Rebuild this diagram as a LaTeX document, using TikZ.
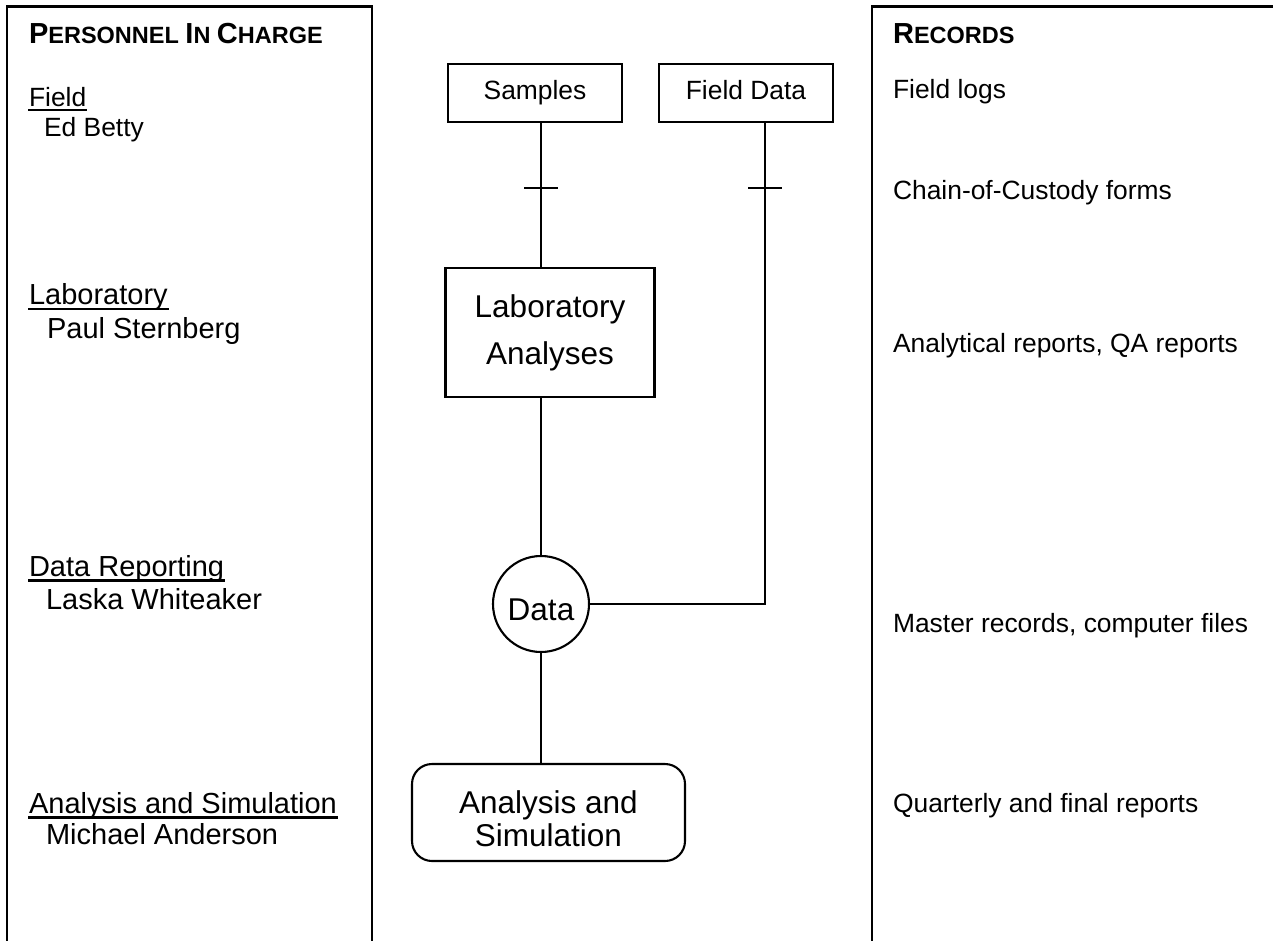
\documentclass[tikz,border=0pt]{standalone}
\usepackage{fontspec}
\setmainfont{Liberation Sans}
\newcommand\hbig[1]{{\fontsize{29}{34}\selectfont #1}}
\newcommand\hsml[1]{{\fontsize{23.5}{34}\selectfont #1}}
\begin{document}
\begin{tikzpicture}[x=1pt,y=-1pt,line width=2.1pt,
  txt/.style={anchor=base west,inner sep=0pt,font=\fontsize{26.4}{32}\selectfont},
  txtl/.style={anchor=base west,inner sep=0pt,font=\fontsize{29}{34}\selectfont},
  hd/.style={anchor=base west,inner sep=0pt,font=\bfseries},
  uline/.style={line width=2.2pt},
  conn/.style={line width=2.1pt},
  sbox/.style={draw,minimum width=174pt,minimum height=58pt,inner sep=0pt,text height=20pt,text depth=6pt,font=\fontsize{26.4}{32}\selectfont},
  labbox/.style={draw,minimum width=209pt,minimum height=129pt,inner sep=0pt,align=center,font=\fontsize{31.5}{47}\selectfont},
  anbox/.style={draw,rounded corners=20pt,minimum width=273pt,minimum height=97pt,inner sep=0pt,font=\fontsize{31.5}{33}\selectfont},
  circ/.style={draw,circle,minimum size=96pt,inner sep=0pt,text height=32pt,text depth=0pt,font=\fontsize{31.5}{34}\selectfont}]
\useasboundingbox (0,0) rectangle (1273,941);
% panels
\draw (7,960) -- (7,6.5) -- (372,6.5) -- (372,960);
\draw (872,960) -- (872,6.5) -- (1290,6.5);
% left column
\node[hd] (hpers) at (28,44) {\hbig{P}\hsml{ERSONNEL}\hspace{6.5pt}\hbig{I}\hsml{N}\hspace{6.5pt}\hbig{C}\hsml{HARGE}};
\node[txt] (lfield) at (28,107) {Field};
\node[txt] (lfieldn) at (43,137) {Ed Betty};
\node[txtl] (llab) at (28,304) {Laboratory};
\node[txtl] (llabn) at (46,338) {Paul Sternberg};
\node[txtl] (ldata) at (28,576) {Data Reporting};
\node[txtl] (ldatan) at (45,609) {Laska Whiteaker};
\node[txtl] (lanal) at (28,813) {Analysis and Simulation};
\node[txtl] (lanaln) at (45,844) {Michael Anderson};
\draw[uline] ([yshift=-3pt]lfield.base west) -- ([yshift=-3pt]lfield.base east);
\draw[uline] ([yshift=-5pt]llab.base west) -- ([yshift=-5pt]llab.base east);
\draw[uline] ([yshift=-4.5pt]ldata.base west) -- ([yshift=-4.5pt]ldata.base east);
\draw[uline] ([yshift=-4.5pt]lanal.base west) -- ([yshift=-4.5pt]lanal.base east);
% right column
\node[hd] (hrec) at (892,44) {\hbig{R}\hsml{ECORDS}};
\node[txt] (rfield) at (892,99) {Field logs};
\node[txt] (rcoc) at (892,200) {Chain-of-Custody forms};
\node[txt] (rlab) at (892,352) {Analytical reports, QA reports};
\node[txt] (rdata) at (892,632) {Master records, computer files};
\node[txt] (ranal) at (892,812) {Quarterly and final reports};
% center diagram
\node[sbox] (samples) at (535,93) {Samples};
\node[sbox] (fdata) at (746,93) {Field Data};
\node[labbox] (lab) at (550,332.5) {Laboratory\\Analyses};
\node[circ] (data) at (541,604) {Data};
\node[anbox] (anal) at (548.5,812.5) {\raisebox{-11pt}[\height][\depth]{\begin{tabular}{@{}c@{}}Analysis and\\Simulation\end{tabular}}};
\coordinate (sx) at (541,0);
\coordinate (fx) at (765,0);
\coordinate (t1) at (541,188);
\coordinate (t2) at (765,188);
\draw[conn] (samples.south -| sx) -- (lab.north -| sx);
\draw[conn] (fdata.south -| fx) |- (data.east);
\draw[conn] (lab.south -| data.north) -- (data.north);
\draw[conn] (data.south) -- (anal.north -| data.south);
\draw[conn] ([xshift=-17pt]t1) -- ([xshift=17pt]t1);
\draw[conn] ([xshift=-17pt]t2) -- ([xshift=17pt]t2);
\end{tikzpicture}
\end{document}
